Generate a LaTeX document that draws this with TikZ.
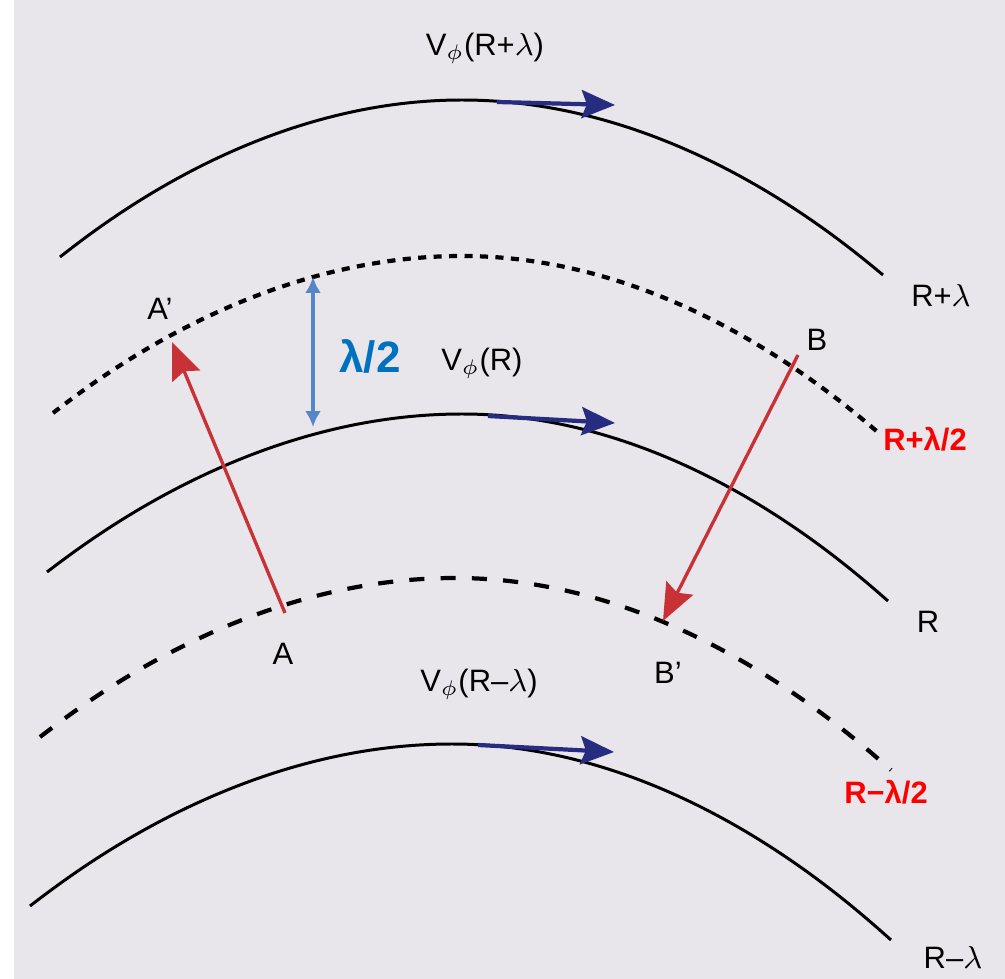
\documentclass[tikz,border=0pt]{standalone}
\usepackage{fontspec}
\setmainfont{Liberation Sans}
\usetikzlibrary{arrows.meta}

\definecolor{paper}{RGB}{232,230,235}
\definecolor{navy}{RGB}{38,44,128}
\definecolor{arrowred}{RGB}{200,50,55}
\definecolor{gapblue}{RGB}{85,135,200}
\definecolor{labelblue}{RGB}{0,112,192}
\definecolor{ringred}{RGB}{255,0,0}

\tikzset{
  orbit/.style={line width=0.85pt},
  halforbit/.style={line width=1.2pt, dash pattern=on 2.3pt off 2.1pt},
  lowhalf/.style={line width=1.2pt, dash pattern=on 4.3pt off 4.6pt},
  vel/.style={navy, line width=1.2pt, -{Stealth[length=9.5pt, width=8pt, inset=1.5pt]}},
  jump/.style={arrowred, line width=0.95pt, -{Stealth[length=10.5pt, width=8.5pt, inset=1.5pt]}},
  gap/.style={gapblue, line width=1pt, {Latex[length=4.5pt, width=4.5pt]}-{Latex[length=4.5pt, width=4.5pt]}},
  lbl/.style={font=\fontsize{8.8}{10}\selectfont, inner sep=0pt},
  redlbl/.style={ringred, font=\fontsize{8.8}{10}\selectfont\bfseries, inner sep=0pt},
}

\begin{document}
\begin{tikzpicture}[x=0.01cm, y=-0.01cm]
\useasboundingbox (0,0) rectangle (1005,979);
\fill[white] (0,0) rectangle (1005,979);
\fill[paper] (14,0) rectangle (1005,979);

\draw[orbit] (60,257) parabola bend (462,100) (883,275);
\draw[halforbit] (53,413) parabola bend (462,256) (880,434);
\draw[orbit] (47,572) parabola bend (462,414) (888,601);
\draw[lowhalf] (40,737) parabola bend (455,578) (891,770);
\draw[orbit] (30,906) parabola bend (452,744) (891,940);

\coordinate (v1s) at (497,102);
\coordinate (v1e) at (615,105);
\coordinate (v2s) at (488,416);
\coordinate (v2e) at (615,423);
\coordinate (v3s) at (478,745);
\coordinate (v3e) at (614,752);
\draw[vel] (v1s) -- (v1e);
\draw[vel] (v2s) -- (v2e);
\draw[vel] (v3s) -- (v3e);

\coordinate (A) at (285,613);
\coordinate (Ap) at (172,342);
\coordinate (B) at (798,355);
\coordinate (Bp) at (663,621);
\draw[jump] (A) -- (Ap);
\draw[jump] (B) -- (Bp);

\coordinate (gtop) at (313,277);
\coordinate (gbot) at (313,427);
\draw[gap] (gtop) -- (gbot);

\node[lbl, anchor=base] (vtop) at (485,56) {V$_\phi$(R+$\lambda$)};
\node[lbl, anchor=base] (vmid) at (482,371) {V$_\phi$(R)};
\node[lbl, anchor=base] (vlow) at (479,692) {V$_\phi$(R--$\lambda$)};

\node[lbl] (labA) at (283,654) {A};
\node[lbl] (labAp) at (160,309) {A’};
\node[lbl] (labB) at (817,340) {B};
\node[lbl] (labBp) at (668,673) {B’};

\node[lbl] (ringtop) at (941,296) {R+$\lambda$};
\node[lbl] (ringmid) at (928,622) {R};
\node[lbl] (ringlow) at (953,958) {R--$\lambda$};
\node[redlbl] (halftop) at (925,439) {R+λ/2};
\node[redlbl] (halflow) at (886,792) {R−λ/2};

\node[labelblue, font=\fontsize{12.5}{14}\selectfont\bfseries, inner sep=0pt] (gaplbl) at (370,356) {λ/2};
\end{tikzpicture}
\end{document}
